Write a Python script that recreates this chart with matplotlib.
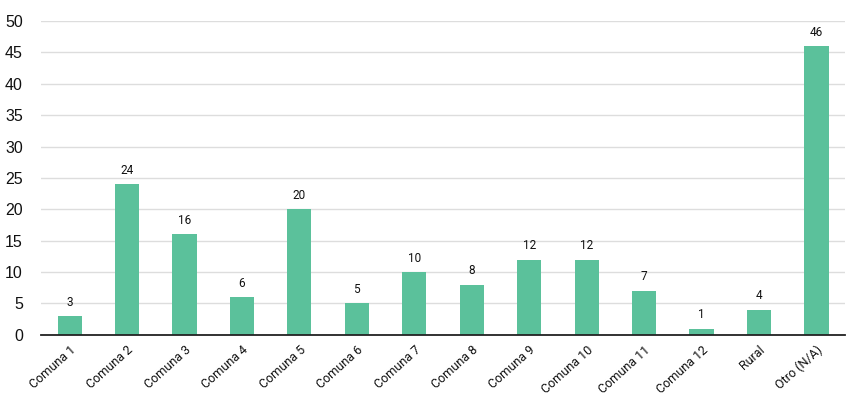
import matplotlib.pyplot as plt

categories = ['Comuna 1', 'Comuna 2', 'Comuna 3', 'Comuna 4', 'Comuna 5', 'Comuna 6',
              'Comuna 7', 'Comuna 8', 'Comuna 9', 'Comuna 10', 'Comuna 11', 'Comuna 12',
              'Rural', 'Otro (N/A)']
values = [3, 24, 16, 6, 20, 5, 10, 8, 12, 12, 7, 1, 4, 46]
yticks = list(range(0, 51, 5))

fig = plt.figure(figsize=(8.52, 4.03), dpi=100)
ax = fig.add_axes([0.048, 0.169, 0.944, 0.779])

x = range(len(categories))
bars = ax.bar(x, values, width=0.42, color='#5BC19B', zorder=3)
for b, v in zip(bars, values):
    ax.text(b.get_x() + b.get_width() / 2, v + 1.2, str(v), ha='center', va='bottom',
            fontsize=8.5, family='Roboto', color='#111111')

ax.set_xlim(-0.5, len(categories) - 0.5)
ax.set_ylim(0, 50)
ax.set_yticks(yticks)
ax.set_yticklabels([str(t) for t in yticks], family='Liberation Sans', fontsize=11.5, color='#111111')
ax.set_xticks(list(x))
ax.set_xticklabels(categories, rotation=42, ha='right', rotation_mode='anchor',
                   family='Roboto', fontsize=9, color='#111111')
ax.tick_params(axis='both', length=0)
ax.tick_params(axis='y', pad=13)
ax.tick_params(axis='x', pad=6)
ax.grid(axis='y', color='#dddddd', linewidth=1, zorder=0)
for s in ['top', 'right', 'left']:
    ax.spines[s].set_visible(False)
ax.spines['bottom'].set_color('#222222')
ax.spines['bottom'].set_linewidth(1.3)
ax.spines['bottom'].set_zorder(4)

fig.savefig('out.png', dpi=100)
